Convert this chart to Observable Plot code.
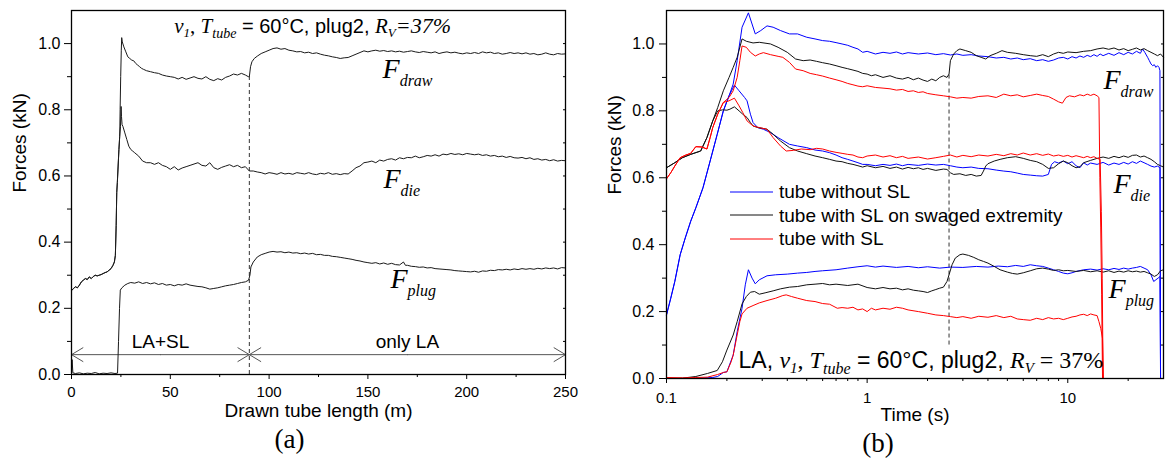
<!DOCTYPE html>
<html><head><meta charset="utf-8">
<script src="https://cdn.jsdelivr.net/npm/d3@7"></script>
<script src="https://cdn.jsdelivr.net/npm/@observablehq/plot@0.6"></script>
<style>
body{margin:0;background:#fff;}
#wrap{position:relative;width:1166px;height:465px;overflow:hidden;background:#fff;font-family:"Liberation Sans",Arial,sans-serif;}
#pa{position:absolute;left:0;top:0;}
#pb{position:absolute;left:590px;top:0;}
#legend{position:absolute;left:730px;top:180px;font-size:19px;color:#000;}
#legend .row{height:23.5px;line-height:23.5px;white-space:nowrap;display:flex;align-items:center;}
#legend svg{margin-right:6px;}
</style></head>
<body><div id="wrap"><div id="pa"></div><div id="pb"></div><div id="legend"></div></div>
<script>
// ---------------- DATA: panel (a) — force (kN) vs drawn tube length (m)
const aCommon = [[0.3,0.255],[1,0.26],[2,0.265],[3,0.262],[4,0.27],[5,0.28],[6,0.285],[7,0.29],[8,0.287],[9,0.295],[10,0.29],[11,0.296],[12,0.3],[13,0.298],[14,0.3],[15,0.302],[16,0.305],[17,0.308],[18,0.31],[19,0.315],[20,0.32],[21,0.33],[21.7,0.34],[22.2,0.36],[22.6,0.45],[22.9,0.55],[23.2,0.58],[23.6,0.63],[24,0.68],[24.4,0.72]];
const aDraw = aCommon.concat([[24.6,0.8],[24.9,0.9],[25.2,0.98],[25.4,1.018],[25.7,1.005],[26.5,0.99],[27.5,0.975],[28.5,0.96],[29.5,0.955],[30.5,0.95],[31.5,0.948],[32.5,0.94],[33.5,0.935],[34.5,0.93],[35.5,0.925],[36.5,0.922],[38,0.918],[40,0.915],[42,0.912],[44,0.91],[46,0.905],[48,0.902],[50,0.9],[52,0.898],[54,0.893],[56,0.898],[58,0.892],[60,0.896],[62,0.9],[64,0.895],[66,0.893],[68,0.9],[70,0.892],[72,0.888],[74,0.894],[76,0.89],[78,0.898],[80,0.902],[82,0.908],[84,0.905],[86,0.91],[88,0.905],[89.5,0.9],[90,0.9],[90.6,0.93],[91.3,0.945],[92.5,0.955],[94,0.962],[96,0.97],[98,0.975],[100,0.98],[102,0.985],[104,0.987],[106,0.983],[108,0.985],[110,0.98],[112,0.978],[114,0.975],[116,0.976],[118,0.972],[120,0.974],[122,0.97],[124,0.972],[126,0.968],[128,0.965],[130,0.963],[132,0.96],[134,0.958],[136,0.955],[138,0.957],[140,0.958],[142,0.963],[144,0.968],[146,0.973],[148,0.978],[150,0.975],[152,0.978],[154,0.98],[156,0.977],[158,0.979],[160,0.976],[162,0.978],[164,0.975],[166,0.977],[168,0.974],[170,0.976],[172,0.978],[174,0.975],[176,0.973],[178,0.976],[180,0.974],[182,0.972],[184,0.975],[186,0.97],[188,0.973],[190,0.975],[192,0.972],[194,0.974],[196,0.971],[198,0.969],[200,0.972],[202,0.97],[204,0.973],[206,0.97],[208,0.975],[210,0.972],[212,0.974],[214,0.97],[216,0.972],[218,0.968],[220,0.97],[222,0.973],[224,0.97],[226,0.972],[228,0.969],[230,0.972],[232,0.968],[234,0.97],[236,0.966],[238,0.968],[240,0.972],[242,0.968],[244,0.966],[246,0.97],[248,0.968],[250,0.969]]);
const aDie = aCommon.concat([[24.8,0.75],[25.1,0.81],[25.3,0.78],[25.6,0.755],[26,0.75],[27,0.73],[28,0.71],[29,0.69],[30,0.68],[31,0.675],[32,0.67],[34,0.66],[36,0.645],[38,0.64],[40,0.64],[42,0.635],[44,0.64],[46,0.632],[48,0.628],[50,0.62],[52,0.628],[54,0.618],[56,0.624],[58,0.628],[60,0.632],[62,0.636],[64,0.64],[66,0.632],[68,0.63],[70,0.64],[72,0.625],[74,0.62],[76,0.626],[78,0.63],[80,0.634],[82,0.628],[84,0.632],[86,0.625],[88,0.628],[90,0.615],[92,0.615],[94,0.612],[96,0.61],[98,0.606],[100,0.61],[102,0.608],[104,0.605],[106,0.61],[108,0.606],[110,0.608],[112,0.605],[114,0.61],[116,0.608],[118,0.606],[120,0.61],[122,0.606],[124,0.604],[126,0.608],[128,0.606],[130,0.61],[132,0.605],[134,0.607],[136,0.604],[138,0.607],[140,0.606],[142,0.615],[144,0.625],[146,0.63],[148,0.64],[150,0.642],[152,0.645],[154,0.64],[156,0.648],[158,0.645],[160,0.65],[162,0.652],[164,0.648],[166,0.655],[168,0.652],[170,0.656],[172,0.655],[174,0.66],[176,0.655],[178,0.658],[180,0.662],[182,0.66],[184,0.664],[186,0.66],[188,0.666],[190,0.664],[192,0.668],[194,0.665],[196,0.667],[198,0.664],[200,0.668],[202,0.666],[204,0.664],[206,0.666],[208,0.662],[210,0.664],[212,0.66],[214,0.662],[216,0.658],[218,0.66],[220,0.656],[222,0.659],[224,0.655],[226,0.654],[228,0.656],[230,0.652],[232,0.655],[234,0.65],[236,0.652],[238,0.648],[240,0.65],[242,0.646],[244,0.649],[246,0.645],[248,0.647],[250,0.646]]);
const aPlug = [[0,0],[0.3,0.045],[0.7,0.005],[2,0.003],[4,0.005],[6,0.002],[8,0.004],[10,0.003],[12,0.006],[14,0.002],[16,0.004],[18,0.003],[20,0.005],[22,0.003],[23.3,0.004],[23.8,0.1],[24.3,0.2],[24.7,0.255],[25.5,0.262],[27,0.27],[28.5,0.275],[30,0.278],[32,0.276],[34,0.28],[36,0.275],[38,0.278],[40,0.274],[42,0.277],[44,0.272],[46,0.275],[48,0.27],[50,0.272],[52,0.268],[54,0.272],[56,0.27],[58,0.274],[60,0.27],[62,0.268],[64,0.266],[66,0.265],[68,0.262],[70,0.258],[72,0.26],[74,0.262],[76,0.265],[78,0.268],[80,0.27],[82,0.272],[84,0.275],[86,0.278],[88,0.28],[89.6,0.285],[90.3,0.3],[90.8,0.325],[92,0.34],[94,0.355],[96,0.362],[98,0.366],[100,0.37],[102,0.372],[104,0.37],[106,0.371],[108,0.368],[110,0.37],[112,0.367],[114,0.368],[116,0.365],[118,0.367],[120,0.364],[122,0.366],[124,0.362],[126,0.363],[128,0.36],[130,0.36],[132,0.357],[134,0.356],[136,0.354],[138,0.352],[140,0.35],[142,0.348],[144,0.345],[146,0.343],[148,0.34],[150,0.338],[152,0.336],[154,0.338],[156,0.334],[158,0.337],[160,0.333],[162,0.336],[164,0.332],[166,0.331],[168,0.34],[169,0.33],[170,0.33],[172,0.327],[174,0.326],[176,0.324],[178,0.325],[180,0.322],[182,0.323],[184,0.32],[186,0.319],[188,0.318],[190,0.317],[192,0.316],[194,0.314],[196,0.313],[198,0.312],[200,0.311],[202,0.31],[204,0.312],[206,0.309],[208,0.313],[210,0.312],[212,0.315],[214,0.314],[216,0.317],[218,0.316],[220,0.318],[222,0.316],[224,0.319],[226,0.317],[228,0.32],[230,0.318],[232,0.32],[234,0.318],[236,0.321],[238,0.319],[240,0.322],[242,0.32],[244,0.322],[246,0.319],[248,0.323],[250,0.322]];
const aBoundary = [{x:90, y1:0, y2:0.9}];
const aZones = [{label:"LA+SL", x1:0, x2:90}, {label:"only LA", x1:90, x2:250}];
const aZoneArrowY = 0.06, aZoneTextY = 0.098;
const aForceLabels = [{x:157.4, y:0.8975, sub:"draw"}, {x:157.9, y:0.565, sub:"die"}, {x:161.4, y:0.26, sub:"plug"}];
const aTitlePos = {x:52, y:1.0305};

// ---------------- DATA: panel (b) — force (kN) vs time (s), log axis
const bBlueDraw = [[0.1,0.19],[0.105,0.24],[0.11,0.29],[0.117,0.37],[0.124,0.42],[0.132,0.47],[0.14,0.51],[0.152,0.57],[0.165,0.65],[0.179,0.73],[0.192,0.8],[0.205,0.845],[0.215,0.88],[0.225,0.95],[0.238,1.05],[0.256,1.093],[0.277,1.03],[0.295,1.04],[0.317,1.054],[0.34,1.05],[0.37,1.04],[0.41,1.03],[0.45,1.03],[0.5,1.02],[0.55,1.015],[0.6,1.01],[0.65,1.008],[0.7,1.004],[0.75,1.0],[0.8,0.996],[0.85,0.99],[0.9,0.985],[0.95,0.975],[1.0,0.978],[1.1,0.97],[1.2,0.975],[1.3,0.972],[1.4,0.976],[1.5,0.97],[1.6,0.974],[1.8,0.97],[2.0,0.973],[2.2,0.968],[2.4,0.971],[2.6,0.967],[2.8,0.97],[3.0,0.966],[3.3,0.968],[3.6,0.964],[4.0,0.962],[4.4,0.958],[4.8,0.96],[5.2,0.955],[5.6,0.958],[6.0,0.953],[6.5,0.956],[7.0,0.95],[7.5,0.953],[8.0,0.948],[8.5,0.952],[9.0,0.958],[9.5,0.96],[10,0.955],[10.5,0.962],[11,0.958],[11.5,0.964],[12,0.96],[12.5,0.966],[13,0.962],[13.5,0.968],[14,0.963],[14.5,0.97],[15,0.965],[16,0.972],[17,0.966],[18,0.974],[19,0.968],[20,0.975],[21,0.97],[22,0.978],[23,0.972],[23.6,0.985],[24.2,0.975],[25,0.96],[25.5,0.95],[26,0.94],[26.5,0.935],[27,0.938],[27.5,0.93],[28,0.935],[28.5,0.93],[28.8,0.92],[29,0]];
const bBlueDie = [[0.1,0.19],[0.105,0.24],[0.11,0.29],[0.117,0.37],[0.124,0.42],[0.132,0.47],[0.14,0.51],[0.152,0.57],[0.165,0.65],[0.179,0.73],[0.192,0.8],[0.205,0.845],[0.218,0.877],[0.23,0.86],[0.245,0.84],[0.252,0.83],[0.262,0.79],[0.27,0.765],[0.285,0.75],[0.304,0.745],[0.33,0.735],[0.36,0.72],[0.41,0.7],[0.45,0.695],[0.5,0.69],[0.55,0.683],[0.6,0.68],[0.65,0.675],[0.7,0.668],[0.75,0.66],[0.8,0.655],[0.85,0.65],[0.9,0.645],[0.95,0.64],[1.0,0.64],[1.1,0.636],[1.2,0.64],[1.3,0.637],[1.4,0.641],[1.5,0.636],[1.6,0.64],[1.8,0.637],[2.0,0.641],[2.2,0.638],[2.4,0.64],[2.6,0.636],[2.8,0.632],[3.0,0.63],[3.3,0.632],[3.6,0.628],[4.0,0.627],[4.4,0.623],[4.8,0.62],[5.2,0.618],[5.6,0.614],[6.0,0.61],[6.5,0.608],[7.0,0.606],[7.5,0.605],[8.0,0.61],[8.3,0.64],[8.6,0.648],[9,0.644],[9.5,0.65],[10,0.642],[10.5,0.648],[11,0.636],[11.5,0.63],[12,0.645],[12.5,0.638],[13,0.644],[14,0.64],[15,0.646],[16,0.638],[17,0.644],[18,0.64],[19,0.646],[20,0.641],[21,0.648],[22,0.643],[23,0.65],[24,0.645],[25,0.64],[26,0.635],[27,0.632],[28,0.635],[28.8,0.63],[29,0]];
const bBluePlug = [[0.1,0],[0.13,0],[0.15,0.001],[0.17,0.003],[0.18,0.006],[0.192,0.018],[0.2,0.02],[0.215,0.07],[0.225,0.14],[0.238,0.21],[0.247,0.28],[0.256,0.325],[0.267,0.3],[0.277,0.283],[0.29,0.295],[0.317,0.307],[0.35,0.31],[0.4,0.312],[0.45,0.315],[0.5,0.317],[0.55,0.32],[0.6,0.322],[0.7,0.325],[0.8,0.33],[0.9,0.334],[1.0,0.337],[1.1,0.333],[1.2,0.336],[1.4,0.332],[1.6,0.335],[1.8,0.331],[2.0,0.334],[2.3,0.33],[2.6,0.333],[3.0,0.332],[3.5,0.335],[4.0,0.333],[4.5,0.336],[5,0.334],[5.5,0.338],[6,0.335],[6.5,0.34],[7,0.337],[7.5,0.335],[8,0.33],[8.5,0.325],[9,0.32],[9.5,0.315],[10,0.313],[10.5,0.316],[11,0.32],[12,0.325],[13,0.327],[14,0.324],[15,0.328],[16,0.325],[17,0.329],[18,0.326],[19,0.33],[20,0.327],[21,0.33],[22,0.332],[23,0.335],[24,0.33],[25,0.325],[26,0.31],[26.8,0.29],[27.5,0.295],[28.2,0.3],[28.8,0.305],[29,0]];
const bBlackDraw = [[0.1,0.63],[0.11,0.645],[0.12,0.66],[0.132,0.67],[0.148,0.68],[0.159,0.72],[0.17,0.77],[0.18,0.81],[0.192,0.86],[0.205,0.9],[0.215,0.93],[0.225,0.96],[0.238,1.015],[0.25,1.008],[0.27,1.003],[0.29,1.005],[0.33,1.0],[0.36,0.99],[0.4,0.975],[0.44,0.955],[0.48,0.95],[0.52,0.952],[0.56,0.948],[0.6,0.944],[0.65,0.94],[0.7,0.935],[0.75,0.93],[0.8,0.926],[0.85,0.922],[0.9,0.918],[0.95,0.912],[1.0,0.91],[1.05,0.905],[1.1,0.908],[1.2,0.9],[1.3,0.905],[1.4,0.898],[1.5,0.895],[1.6,0.9],[1.7,0.893],[1.8,0.898],[1.9,0.892],[2.0,0.888],[2.1,0.895],[2.2,0.89],[2.3,0.9],[2.4,0.905],[2.5,0.9],[2.56,0.91],[2.6,0.95],[2.7,0.97],[2.8,0.98],[2.9,0.985],[3.1,0.98],[3.3,0.975],[3.5,0.965],[3.7,0.96],[3.9,0.955],[4.1,0.965],[4.4,0.972],[4.7,0.98],[5.0,0.975],[5.5,0.972],[6.0,0.968],[6.5,0.965],[7.0,0.963],[7.5,0.968],[8.0,0.962],[8.5,0.97],[9,0.975],[9.5,0.972],[10,0.976],[11,0.974],[12,0.978],[13,0.98],[14,0.985],[15,0.988],[16,0.984],[17,0.988],[18,0.982],[19,0.986],[20,0.98],[21,0.984],[22,0.988],[23,0.982],[24,0.986],[25,0.98],[26,0.975],[27,0.97],[28,0.965],[29,0.97],[30,0.96]];
const bBlackDie = [[0.1,0.63],[0.11,0.645],[0.12,0.66],[0.132,0.67],[0.148,0.68],[0.159,0.72],[0.17,0.77],[0.18,0.8],[0.19,0.803],[0.2,0.802],[0.207,0.805],[0.218,0.812],[0.23,0.8],[0.24,0.79],[0.252,0.78],[0.262,0.765],[0.27,0.755],[0.285,0.75],[0.3,0.748],[0.317,0.745],[0.34,0.73],[0.37,0.71],[0.41,0.69],[0.45,0.68],[0.5,0.672],[0.55,0.665],[0.6,0.66],[0.65,0.655],[0.7,0.65],[0.75,0.648],[0.8,0.643],[0.85,0.64],[0.9,0.636],[0.95,0.632],[1.0,0.636],[1.1,0.63],[1.2,0.634],[1.3,0.628],[1.4,0.632],[1.5,0.626],[1.6,0.631],[1.7,0.627],[1.8,0.63],[1.9,0.625],[2.0,0.628],[2.2,0.622],[2.4,0.626],[2.5,0.625],[2.6,0.615],[2.7,0.61],[2.9,0.612],[3.1,0.607],[3.3,0.61],[3.5,0.605],[3.7,0.607],[3.8,0.62],[3.9,0.635],[4.0,0.642],[4.3,0.65],[4.6,0.655],[5.0,0.66],[5.5,0.663],[6.0,0.658],[6.5,0.652],[7.0,0.648],[7.5,0.64],[8.0,0.628],[8.5,0.63],[9.0,0.642],[9.5,0.65],[10,0.645],[10.5,0.636],[11,0.63],[11.5,0.633],[12,0.645],[13,0.652],[14,0.658],[15,0.662],[16,0.658],[17,0.664],[18,0.66],[19,0.665],[20,0.661],[21,0.667],[22,0.668],[23,0.662],[24,0.665],[25,0.66],[26,0.655],[27,0.648],[28,0.64],[29,0.636],[30,0.632]];
const bBlackPlug = [[0.1,0],[0.12,0.001],[0.14,0.006],[0.16,0.015],[0.179,0.024],[0.19,0.05],[0.2,0.085],[0.215,0.13],[0.225,0.17],[0.238,0.223],[0.25,0.245],[0.262,0.258],[0.275,0.26],[0.29,0.252],[0.31,0.256],[0.34,0.262],[0.37,0.268],[0.41,0.273],[0.45,0.275],[0.5,0.28],[0.55,0.282],[0.6,0.284],[0.65,0.28],[0.7,0.282],[0.8,0.278],[0.9,0.282],[1.0,0.272],[1.1,0.268],[1.2,0.272],[1.3,0.268],[1.4,0.27],[1.5,0.265],[1.6,0.268],[1.7,0.264],[1.8,0.262],[1.9,0.26],[2.0,0.257],[2.1,0.262],[2.2,0.266],[2.3,0.27],[2.4,0.273],[2.5,0.29],[2.56,0.31],[2.65,0.34],[2.75,0.36],[2.9,0.37],[3.0,0.372],[3.2,0.368],[3.4,0.362],[3.6,0.355],[3.8,0.35],[4.0,0.345],[4.3,0.335],[4.6,0.325],[5.0,0.318],[5.3,0.314],[5.6,0.312],[6.0,0.316],[6.5,0.322],[7.0,0.328],[7.5,0.33],[8.0,0.327],[8.5,0.323],[9,0.325],[9.5,0.322],[10,0.323],[11,0.32],[12,0.323],[13,0.319],[14,0.322],[15,0.318],[16,0.322],[17,0.317],[18,0.321],[19,0.318],[20,0.322],[21,0.319],[22,0.321],[23,0.318],[24,0.32],[25,0.316],[26,0.312],[27,0.305],[28,0.31],[29,0.322],[30,0.325]];
const bRedDraw = [[0.1,0.597],[0.105,0.615],[0.11,0.635],[0.117,0.66],[0.125,0.668],[0.132,0.673],[0.14,0.693],[0.15,0.692],[0.159,0.686],[0.165,0.72],[0.17,0.75],[0.18,0.79],[0.192,0.825],[0.205,0.84],[0.215,0.86],[0.225,0.9],[0.232,0.95],[0.238,0.994],[0.25,0.99],[0.262,0.975],[0.277,0.964],[0.29,0.97],[0.304,0.974],[0.33,0.968],[0.36,0.963],[0.38,0.96],[0.41,0.945],[0.44,0.925],[0.48,0.92],[0.52,0.912],[0.56,0.908],[0.6,0.904],[0.65,0.898],[0.7,0.893],[0.75,0.888],[0.8,0.882],[0.85,0.878],[0.9,0.874],[0.95,0.872],[1.0,0.875],[1.1,0.87],[1.2,0.868],[1.3,0.866],[1.4,0.862],[1.5,0.864],[1.6,0.858],[1.7,0.86],[1.8,0.855],[1.9,0.857],[2.0,0.852],[2.2,0.848],[2.4,0.845],[2.6,0.842],[2.8,0.838],[3.0,0.84],[3.3,0.838],[3.6,0.843],[4.0,0.845],[4.4,0.84],[4.8,0.85],[5.2,0.845],[5.6,0.848],[6.0,0.842],[6.5,0.846],[7.0,0.85],[7.5,0.846],[8.0,0.843],[8.5,0.835],[9.0,0.827],[9.4,0.823],[9.8,0.84],[10.2,0.845],[10.8,0.842],[11.5,0.848],[12,0.845],[12.5,0.85],[13,0.846],[13.5,0.85],[14,0.845],[14.3,0.84],[14.45,0.6],[14.6,0.45],[14.75,0.25],[14.9,0]];
const bRedDie = [[0.1,0.597],[0.105,0.615],[0.11,0.635],[0.117,0.66],[0.125,0.668],[0.132,0.673],[0.14,0.693],[0.15,0.692],[0.159,0.686],[0.165,0.72],[0.17,0.75],[0.18,0.79],[0.192,0.825],[0.205,0.83],[0.218,0.838],[0.23,0.815],[0.24,0.795],[0.252,0.77],[0.27,0.755],[0.29,0.75],[0.317,0.745],[0.34,0.72],[0.37,0.695],[0.395,0.68],[0.43,0.682],[0.47,0.686],[0.52,0.684],[0.56,0.688],[0.6,0.686],[0.65,0.68],[0.7,0.676],[0.75,0.673],[0.8,0.67],[0.85,0.668],[0.9,0.662],[0.95,0.66],[1.0,0.665],[1.1,0.668],[1.2,0.662],[1.3,0.666],[1.4,0.66],[1.5,0.664],[1.6,0.658],[1.8,0.662],[2.0,0.656],[2.2,0.66],[2.4,0.664],[2.6,0.668],[2.8,0.662],[3.0,0.667],[3.3,0.663],[3.6,0.668],[4.0,0.665],[4.4,0.67],[4.8,0.666],[5.2,0.672],[5.6,0.668],[6.0,0.674],[6.5,0.668],[7.0,0.672],[7.5,0.667],[8.0,0.671],[8.5,0.665],[9.0,0.668],[9.5,0.664],[10,0.667],[10.5,0.662],[11,0.666],[12,0.66],[12.5,0.664],[13,0.66],[13.5,0.663],[14,0.658],[14.5,0.655],[14.7,0.5],[14.85,0.3],[15.0,0]];
const bRedPlug = [[0.1,0.003],[0.12,0.002],[0.14,0.003],[0.16,0.004],[0.18,0.012],[0.192,0.018],[0.2,0.02],[0.21,0.05],[0.215,0.07],[0.225,0.13],[0.232,0.17],[0.238,0.193],[0.252,0.21],[0.27,0.218],[0.29,0.226],[0.317,0.233],[0.35,0.24],[0.38,0.248],[0.395,0.25],[0.42,0.245],[0.45,0.24],[0.5,0.233],[0.55,0.23],[0.6,0.224],[0.65,0.222],[0.71,0.21],[0.75,0.212],[0.8,0.21],[0.85,0.213],[0.9,0.205],[0.95,0.208],[1.0,0.2],[1.05,0.21],[1.1,0.205],[1.2,0.21],[1.3,0.207],[1.4,0.213],[1.5,0.21],[1.6,0.205],[1.8,0.2],[2.0,0.195],[2.2,0.19],[2.4,0.188],[2.6,0.185],[2.8,0.182],[3.0,0.185],[3.3,0.18],[3.6,0.186],[4.0,0.183],[4.4,0.188],[4.8,0.182],[5.2,0.186],[5.6,0.178],[6.0,0.176],[6.5,0.174],[7.0,0.18],[7.5,0.176],[8.0,0.182],[8.5,0.178],[9.0,0.18],[9.5,0.176],[10,0.18],[10.5,0.184],[11,0.186],[11.5,0.19],[12,0.192],[12.5,0.188],[13,0.193],[13.5,0.19],[14,0.188],[14.3,0.17],[14.6,0.15],[14.9,0.12],[15.05,0]];
const bBoundary = [{x:2.56, y1:0.1, y2:0.91}];
const bForceLabels = [{x:15.07, y:0.866, sub:"draw"}, {x:16.9, y:0.555, sub:"die"}, {x:15.97, y:0.242, sub:"plug"}];
const bTitlePos = {x:0.2286, y:0.03};
const seriesNames = ["tube without SL", "tube with SL on swaged extremity", "tube with SL"];
const seriesColors = ["#0000ff", "#111111", "#ff0000"];

// ---------------- TICKS
const xTicksA = [0,50,100,150,200,250];
const xMinorA = [25,75,125,175,225];
const yTicks = [0,0.2,0.4,0.6,0.8,1.0];
const yMinor = [0.1,0.3,0.5,0.7,0.9];
const yRight = [0,0.1,0.2,0.3,0.4,0.5,0.6,0.7,0.8,0.9,1.0,1.1];
const xTicksB = [0.1,1,10];
const xMinorB = [0.2,0.3,0.4,0.5,0.6,0.7,0.8,0.9,2,3,4,5,6,7,8,9,20];

// ---------------- helpers
const SERIF = "'Liberation Serif','Times New Roman',serif";
const SANS = "'Liberation Sans',Arial,sans-serif";
const I = (t,s,sub=0)=>({t,serif:true,i:true,s,sub});
const R = (t,s,sub=0)=>({t,serif:true,i:false,s,sub});
const S = (t,s,sub=0)=>({t,serif:false,i:false,s,sub});
const richSpecs = [
  [I("v",21),I("1",13,4),R(", ",21,0),I("T",21),I("tube",14,5),S(" = 60°C, plug2, ",20,0),I("R",21),I("V",13,4),I("=37%",22,0)],
  [S("LA, ",23),I("v",24),I("1",15,5),R(", ",24,0),I("T",24),I("tube",16,6),S(" = 60°C, plug2, ",23,0),I("R",24),I("V",15,5),R(" = 37%",24,0)],
  [I("F",28),I("draw",16,8)],[I("F",28),I("die",16,8)],[I("F",28),I("plug",16,8)]
];
const RICH = new Map(richSpecs.map(s=>[s.map(d=>d.t).join(""), s]));
const plainA = richSpecs[0].map(d=>d.t).join("");
const plainB = richSpecs[1].map(d=>d.t).join("");
function richify(svg){
  svg.querySelectorAll("text").forEach(el=>{
    if(el.children.length) return;
    const segs = RICH.get(el.textContent);
    if(!segs) return;
    el.textContent = "";
    el.style.whiteSpace = "pre";
    let cur = 0;
    for(const s of segs){
      const ts = document.createElementNS("http://www.w3.org/2000/svg","tspan");
      ts.textContent = s.t;
      ts.setAttribute("font-family", s.serif?SERIF:SANS);
      ts.setAttribute("font-style", s.i?"italic":"normal");
      ts.setAttribute("font-size", s.s);
      if(s.sub!==cur){ts.setAttribute("dy", s.sub-cur); cur=s.sub;}
      el.appendChild(ts);
    }
  });
}
const pts = a => a.map(([x,y])=>({x,y}));
const noText = () => "";

// ---------------- panel (a)
const zoneArrows = aZones.flatMap(z=>{const m=(z.x1+z.x2)/2; return [{x1:m,x2:z.x1},{x1:m,x2:z.x2}];});
const plotA = Plot.plot({
  width:590, height:465, marginLeft:71, marginRight:25, marginTop:10, marginBottom:91,
  style:{fontFamily:SANS, fontSize:"16px", background:"transparent", color:"#000", overflow:"visible"},
  x:{domain:[0,250], label:null}, y:{domain:[0,1.1], label:null},
  marks:[
    Plot.axisX(xTicksA,{tickSize:5, tickPadding:7, tickFormat:d=>String(d), label:null, fontSize:15}),
    Plot.axisX(xMinorA,{tickSize:3, tickFormat:noText, label:null}),
    Plot.axisY(yTicks,{tickSize:7, tickPadding:4, tickFormat:d3.format(".1f"), label:null}),
    Plot.axisY(yMinor,{tickSize:4, tickFormat:noText, label:null}),
    Plot.axisY(yRight,{anchor:"right", tickSize:3, insetRight:3, tickFormat:noText, label:null}),
    Plot.ruleX(aBoundary,{x:"x", y1:"y1", y2:"y2", stroke:"#333", strokeWidth:1, strokeDasharray:"4,3"}),
    Plot.arrow(zoneArrows,{x1:"x1", x2:"x2", y1:()=>aZoneArrowY, y2:()=>aZoneArrowY, stroke:"#555", strokeWidth:1, headLength:20, headAngle:62}),
    Plot.text(aZones,{x:d=>(d.x1+d.x2)/2, y:()=>aZoneTextY, text:"label", fontSize:19}),
    Plot.line(pts(aPlug),{x:"x", y:"y", stroke:"#1a1a1a", strokeWidth:1}),
    Plot.line(pts(aDie),{x:"x", y:"y", stroke:"#1a1a1a", strokeWidth:1}),
    Plot.line(pts(aDraw),{x:"x", y:"y", stroke:"#1a1a1a", strokeWidth:1}),
    Plot.text(aForceLabels,{x:"x", y:"y", text:d=>"F"+d.sub, textAnchor:"start", lineAnchor:"bottom"}),
    Plot.text([plainA],{x:()=>aTitlePos.x, y:()=>aTitlePos.y, textAnchor:"start", lineAnchor:"bottom"}),
    Plot.text(["Forces (kN)"],{frameAnchor:"left", dx:-52, rotate:-90, fontSize:19}),
    Plot.text(["Drawn tube length (m)"],{frameAnchor:"bottom", dy:42, fontSize:19}),
    Plot.text(["(a)"],{frameAnchor:"bottom", dx:-29, dy:73, fontSize:27, fontFamily:SERIF}),
    Plot.frame({stroke:"#000", strokeWidth:1.3})
  ]
});
richify(plotA);
document.getElementById("pa").appendChild(plotA);

// ---------------- panel (b)
const bLines = [
  [bBlueDie,0],[bBluePlug,0],[bBlueDraw,0],
  [bBlackDie,1],[bBlackPlug,1],[bBlackDraw,1],
  [bRedDie,2],[bRedPlug,2],[bRedDraw,2]
];
const plotB = Plot.plot({
  width:576, height:465, marginLeft:76, marginRight:3, marginTop:10, marginBottom:87,
  style:{fontFamily:SANS, fontSize:"16px", background:"transparent", color:"#000", overflow:"visible"},
  x:{type:"log", domain:[0.1,30], label:null}, y:{domain:[0,1.1], label:null},
  marks:[
    Plot.axisX(xTicksB,{tickSize:5, tickPadding:9, tickFormat:d=>String(d), label:null, fontSize:15}),
    Plot.axisX(xMinorB,{tickSize:3, tickFormat:noText, label:null}),
    Plot.axisY(yTicks,{tickSize:7, tickPadding:5, tickFormat:d3.format(".1f"), label:null}),
    Plot.axisY(yMinor,{tickSize:4, tickFormat:noText, label:null}),
    Plot.axisY(yRight,{anchor:"right", tickSize:3, insetRight:3, tickFormat:noText, label:null}),
    Plot.ruleX(bBoundary,{x:"x", y1:"y1", y2:"y2", stroke:"#333", strokeWidth:1, strokeDasharray:"4,3"}),
    ...bLines.map(([d,k])=>Plot.line(pts(d),{x:"x", y:"y", stroke:seriesColors[k], strokeWidth:1})),
    Plot.text(bForceLabels,{x:"x", y:"y", text:d=>"F"+d.sub, textAnchor:"start", lineAnchor:"bottom"}),
    Plot.text([plainB],{x:()=>bTitlePos.x, y:()=>bTitlePos.y, textAnchor:"start", lineAnchor:"bottom"}),
    Plot.text(["Forces (kN)"],{frameAnchor:"left", dx:-52, rotate:-90, fontSize:19}),
    Plot.text(["Time (s)"],{frameAnchor:"bottom", dy:42, fontSize:19}),
    Plot.text(["(b)"],{frameAnchor:"bottom", dx:-37, dy:73, fontSize:27, fontFamily:SERIF}),
    Plot.frame({stroke:"#000", strokeWidth:1.3})
  ]
});
richify(plotB);
document.getElementById("pb").appendChild(plotB);

// ---------------- legend
const leg = document.getElementById("legend");
seriesNames.forEach((n,i)=>{
  const row = document.createElement("div"); row.className="row";
  row.innerHTML = `<svg width="43" height="4"><line x1="0" x2="43" y1="2" y2="2" stroke="${seriesColors[i]}" stroke-width="1"/></svg><span>${n}</span>`;
  leg.appendChild(row);
});
</script></body></html>
